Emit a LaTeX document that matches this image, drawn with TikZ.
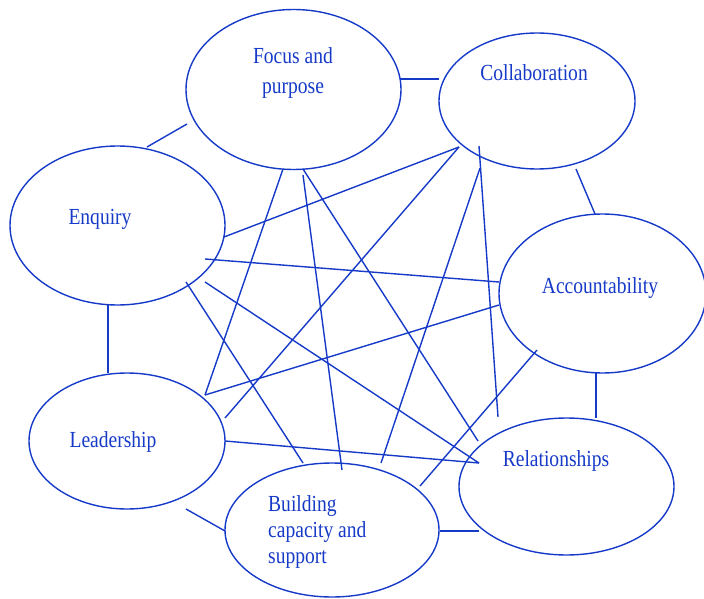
\documentclass[tikz,border=0pt]{standalone}
\usepackage{fontspec}
\usetikzlibrary{shapes.geometric}
\newfontfamily\lblfont[FakeStretch=0.85]{Liberation Serif}
\definecolor{ink}{RGB}{22,58,200}
\begin{document}
\begin{tikzpicture}[x=1pt,y=-1pt,
  bubble/.style={draw=ink,line width=1.4pt,ellipse,inner sep=0pt,outer sep=0pt},
  lbl/.style={text=ink,font=\lblfont\fontsize{23}{27}\selectfont,inner sep=0pt,anchor=base},
  lblw/.style={lbl,anchor=base west},
  link/.style={draw=ink,line width=1.4pt}]
\useasboundingbox (0,0) rectangle (704,599);

% the seven areas
\node[bubble,minimum width=215pt,minimum height=160pt] (fp)  at (293.5,89.5) {};
\node[bubble,minimum width=196pt,minimum height=136pt] (col) at (537,101) {};
\node[bubble,minimum width=215pt,minimum height=159pt] (enq) at (117.5,225.5) {};
\node[bubble,minimum width=207pt,minimum height=159pt] (acc) at (602.5,293.5) {};
\node[bubble,minimum width=196pt,minimum height=136pt] (lea) at (127,441) {};
\node[bubble,minimum width=214pt,minimum height=134pt] (bld) at (332,530) {};
\node[bubble,minimum width=215pt,minimum height=137pt] (rel) at (566.5,486.5) {};

% labels
\node[lbl] (fpL1) at (293,64) {Focus and};
\node[lbl] (fpL2) at (293,94) {purpose};
\node[lbl] (colL) at (534,81) {Collaboration};
\node[lbl] (enqL) at (100,224) {Enquiry};
\node[lbl] (accL) at (600,293) {Accountability};
\node[lbl] (leaL) at (113,447) {Leadership};
\node[lbl] (relL) at (556,466) {Relationships};
\node[lblw] (bldL1) at (268,511) {Building};
\node[lblw] (bldL2) at (268,537) {capacity and};
\node[lblw] (bldL3) at (268,563) {support};

% connector ends
\coordinate (enqA) at (147,147);  \coordinate (fpA)  at (187,124);
\coordinate (fpB)  at (400,79);   \coordinate (colA) at (439,79);
\coordinate (colB) at (576,169);  \coordinate (accA) at (595,214);
\coordinate (accB) at (596,373);  \coordinate (relA) at (596,418);
\coordinate (relB) at (479,531);  \coordinate (bldA) at (440,531);
\coordinate (bldB) at (225,531);  \coordinate (leaA) at (186,509);
\coordinate (leaB) at (108,373);  \coordinate (enqB) at (108,305);
\coordinate (enqC) at (224,237);  \coordinate (colC) at (459,147);
\coordinate (enqD) at (205,259);  \coordinate (accC) at (499,282);
\coordinate (enqE) at (186,282);  \coordinate (bldC) at (303,463);
\coordinate (enqF) at (205,282);  \coordinate (relC) at (479,463);
\coordinate (fpC)  at (283,169);  \coordinate (leaC) at (205,395);
\coordinate (fpD)  at (303,175);  \coordinate (bldD) at (342,470);
\coordinate (fpE)  at (303,169);  \coordinate (relD) at (478,441);
\coordinate (leaD) at (225,418);
\coordinate (colD) at (479,146);  \coordinate (relE) at (498,417);
\coordinate (colE) at (480,168);  \coordinate (bldE) at (381,463);
\coordinate (accD) at (499,305);
\coordinate (accE) at (537,350);  \coordinate (bldF) at (420,486);
\coordinate (leaE) at (225,441);

% links between neighbouring areas
\path[link] (enqA) -- (fpA);
\path[link] (fpB) -- (colA);
\path[link] (colB) -- (accA);
\path[link] (accB) -- (relA);
\path[link] (relB) -- (bldA);
\path[link] (bldB) -- (leaA);
\path[link] (leaB) -- (enqB);

% cross links
\path[link] (enqC) -- (colC);
\path[link] (enqD) -- (accC);
\path[link] (enqE) -- (bldC);
\path[link] (enqF) -- (relC);
\path[link] (fpC) -- (leaC);
\path[link] (fpD) -- (bldD);
\path[link] (fpE) -- (relD);
\path[link] (colC) -- (leaD);
\path[link] (colD) -- (relE);
\path[link] (colE) -- (bldE);
\path[link] (accD) -- (leaC);
\path[link] (accE) -- (bldF);
\path[link] (leaE) -- (relC);
\end{tikzpicture}
\end{document}
